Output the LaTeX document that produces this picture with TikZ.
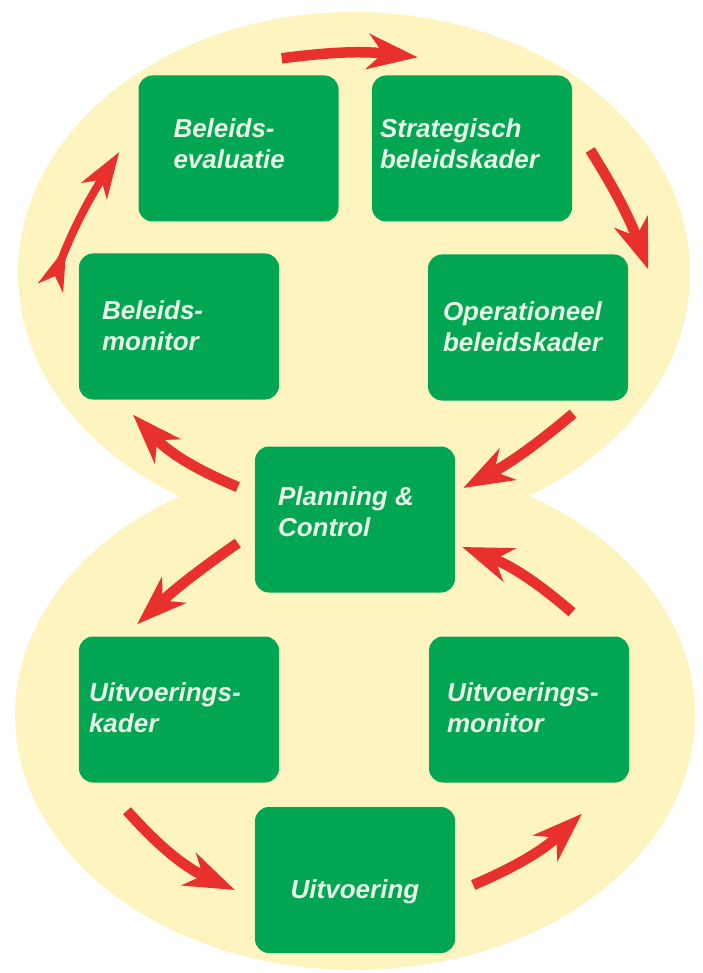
\documentclass[tikz,border=0pt]{standalone}
\usepackage{fontspec}
\setmainfont{Liberation Sans}
\usetikzlibrary{arrows.meta}
\definecolor{lobe}{HTML}{FDF4BF}
\definecolor{boxgreen}{HTML}{00A651}
\definecolor{arrowred}{HTML}{E8302C}
\definecolor{txt}{HTML}{E8F7E8}
\tikzset{
  stage/.style={draw=none, fill=boxgreen, rounded corners=14pt, minimum width=200pt, minimum height=146pt, inner sep=0pt},
  lbl/.style={text=txt, font=\fontsize{26}{31}\selectfont\bfseries\itshape, align=left, inner sep=0pt},
  flow/.style={draw=arrowred, line width=10.5pt, -{Stealth[length=50pt,width=35pt,inset=15pt]}},
}
\begin{document}
\begin{tikzpicture}[x=1pt,y=-1pt]
\useasboundingbox (0,0) rectangle (703,973);
\fill[white] (0,0) rectangle (703,973);
% figure-eight background
\fill[lobe] (354,273) ellipse [x radius=336, y radius=261];
\fill[lobe] (355,715) ellipse [x radius=340, y radius=255];
% stages
\node[stage] (ev) at (238.5,148.5) {};
\node[stage] (st) at (472,148.5) {};
\node[stage] (op) at (528,327.5) {};
\node[stage] (mo) at (179,326.5) {};
\node[stage] (pc) at (355,519.5) {};
\node[stage] (uk) at (179,709.5) {};
\node[stage] (um) at (529,709.5) {};
\node[stage] (uv) at (355,880) {};
% labels
\node[lbl, anchor=north west] (tev) at ([shift={(35,43)}]ev.north west) {Beleids-\\evaluatie};
\node[lbl, anchor=north west] (tst) at ([shift={(8,43)}]st.north west) {Strategisch\\beleidskader};
\node[lbl, anchor=north west] (top) at ([shift={(15,47)}]op.north west) {Operationeel\\beleidskader};
\node[lbl, anchor=north west] (tmo) at ([shift={(23,47)}]mo.north west) {Beleids-\\monitor};
\node[lbl, anchor=north west] (tpc) at ([shift={(23,40)}]pc.north west) {Planning \&\\Control};
\node[lbl, anchor=north west] (tuk) at ([shift={(10,46)}]uk.north west) {Uitvoerings-\\kader};
\node[lbl, anchor=north west] (tum) at ([shift={(18,46)}]um.north west) {Uitvoerings-\\monitor};
\node[lbl, anchor=north] (tuv) at ([shift={(0,73)}]uv.north) {Uitvoering};
% upper cycle
\draw[flow] ([shift={(-57,-17)}]ev.north east) to[bend left=7] ([shift={(46,-18)}]st.north west);
\draw[flow] ([shift={(18,1.5)}]st.east) to[bend left=6] ([shift={(20,15)}]op.north east);
\draw[flow] ([shift={(45,13)}]op.south) to[bend left=6] ([shift={(8,-31.5)}]pc.east);
\draw[flow] ([shift={(-17,-32.5)}]pc.west) to[bend left=12] ([shift={(-46,15)}]mo.south);
\draw[flow, line width=8pt, {Stealth[reversed,length=44pt,width=26pt,inset=12pt]}-{Stealth[length=46pt,width=30pt,inset=13pt]}] ([shift={(-28,34)}]mo.north west) to[bend left=6] ([shift={(-19,3.5)}]ev.west);
% lower cycle
\draw[flow] ([shift={(-17,23.5)}]pc.west) to[bend right=4] ([shift={(-42,-12)}]uk.north);
\draw[flow] ([shift={(-52,28)}]uk.south) to[bend right=12] ([shift={(-20,10)}]uv.west);
\draw[flow] ([shift={(18,5)}]uv.east) to[bend right=10] ([shift={(53,31)}]um.south);
\draw[flow] ([shift={(43,-24)}]um.north) to[bend right=10] ([shift={(7,27.5)}]pc.east);
\end{tikzpicture}
\end{document}
